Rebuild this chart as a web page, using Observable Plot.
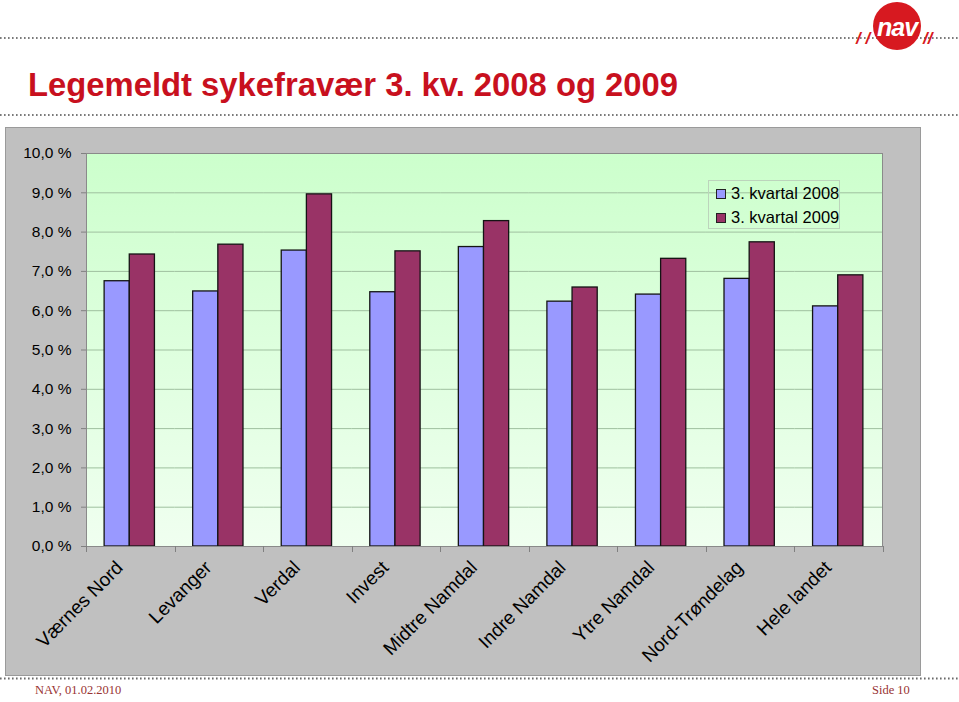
<!DOCTYPE html>
<html><head><meta charset="utf-8">
<script src="https://cdn.jsdelivr.net/npm/d3@7"></script>
<script src="https://cdn.jsdelivr.net/npm/@observablehq/plot@0.6"></script>
<style>
body{margin:0;background:#fff;width:959px;height:702px;position:relative;overflow:hidden;font-family:"Liberation Sans",Arial,sans-serif;}
#deco,#over{position:absolute;left:0;top:0;}
#over{pointer-events:none;}
#chart{position:absolute;left:0;top:127px;line-height:0;}
#legend{position:absolute;left:708px;top:180px;width:132px;height:49px;border:1px solid #bcd4bc;box-sizing:border-box;font-size:16.5px;color:#000;}
#legend .item{position:absolute;left:7px;height:20px;line-height:20px;white-space:nowrap;}
#legend .sw{display:inline-block;width:8px;height:8px;border:1px solid #222;margin-right:5px;vertical-align:0px;}
.foot{position:absolute;top:683px;font-family:"Liberation Serif","Times New Roman",serif;font-size:12.5px;color:#993333;}
</style></head>
<body>
<svg id="deco" width="959" height="702">
  <rect x="5.5" y="127.5" width="915" height="548" fill="#c0c0c0" stroke="#9a9a9a"/>
  <line x1="0" y1="38" x2="959" y2="38" stroke="#7a7a7a" stroke-width="2" stroke-dasharray="1.6 2.4"/>
  <line x1="0" y1="115" x2="959" y2="115" stroke="#7a7a7a" stroke-width="2" stroke-dasharray="1.6 2.4"/>
  <text id="title" x="28" y="96" fill="#c8101e" font-size="34" font-weight="bold" textLength="650" lengthAdjust="spacingAndGlyphs">Legemeldt sykefravær 3. kv. 2008 og 2009</text>
  <g>
    <circle cx="897" cy="26" r="24" fill="#d71920"/>
    <text x="897" y="36" text-anchor="middle" fill="#fff" font-size="25" font-weight="bold" font-style="italic" letter-spacing="-1">nav</text>
    <text x="856" y="44" fill="#d71920" font-size="17" font-weight="bold" font-style="italic">/ /</text>
    <text x="923" y="44" fill="#d71920" font-size="17" font-weight="bold" font-style="italic">//</text>
  </g>
</svg>
<div id="chart"></div>
<div id="legend"></div>
<svg id="over" width="959" height="702">
  <line x1="0" y1="678.5" x2="959" y2="678.5" stroke="#6a6a6a" stroke-width="2" stroke-dasharray="1.6 2.4"/>
</svg>
<div class="foot" style="left:35px">NAV, 01.02.2010</div>
<div class="foot" style="left:872px">Side 10</div>
<script>
const regions = ["Værnes Nord","Levanger","Verdal","Invest","Midtre Namdal","Indre Namdal","Ytre Namdal","Nord-Trøndelag","Hele landet"];
const series = ["3. kvartal 2008","3. kvartal 2009"];
const q3_2008 = [6.75,6.49,7.53,6.47,7.62,6.23,6.41,6.81,6.11];
const q3_2009 = [7.43,7.68,8.96,7.51,8.28,6.59,7.32,7.74,6.90];
const yTicks = [0,1,2,3,4,5,6,7,8,9,10];
const colors = ["#9999ff","#993366"];

(function () {
const data = regions.flatMap((r, i) => [
  {region: r, series: series[0], value: q3_2008[i]},
  {region: r, series: series[1], value: q3_2009[i]}
]);
const fmt = v => d3.format(".1f")(v).replace(".", ",") + " %";

const chart = Plot.plot({
  width: 959, height: 550,
  marginLeft: 86, marginRight: 76, marginTop: 26, marginBottom: 131,
  style: {background: "transparent", fontFamily: "'Liberation Sans', Arial, sans-serif", color: "#000", overflow: "visible"},
  fx: {domain: regions, padding: 0, round: false, label: null},
  x: {domain: series, paddingInner: 0, paddingOuter: 0.76, round: false, axis: null},
  y: {domain: [0, 10], label: null},
  color: {domain: series, range: colors},
  marks: [
    Plot.gridY(yTicks.slice(1, -1), {stroke: "#9fc09f", strokeOpacity: 1}),
    Plot.barY(data, {fx: "region", x: "series", y: "value", fill: "series", stroke: "#141414", strokeWidth: 1.3, dx: -1}),
    Plot.axisY(yTicks, {tickFormat: fmt, tickSize: 5, tickPadding: 10, fontSize: 15.5, stroke: "#808080", label: null}),
    Plot.axisFx({anchor: "bottom", tickRotate: -45, tickSize: 0, tickPadding: 10, fontSize: 19, dx: -11, dy: 8, label: null})
  ]
});
document.getElementById("chart").appendChild(chart);

// plot-area background, border and group-boundary ticks from Plot's scales
const fx = chart.scale("fx"), ys = chart.scale("y");
const svg = d3.select(chart);
const pLeft = fx.range[0], pRight = fx.range[1];
const pTop = ys.apply(10), pBottom = ys.apply(0);
const ns = "http://www.w3.org/2000/svg";
const defs = document.createElementNS(ns, "defs");
defs.innerHTML = '<linearGradient id="bggrad" x1="0" y1="0" x2="0" y2="1"><stop offset="0%" stop-color="#ccffcc"/><stop offset="100%" stop-color="#f0fff0"/></linearGradient>';
const bg = document.createElementNS(ns, "rect");
bg.setAttribute("x", pLeft); bg.setAttribute("y", pTop);
bg.setAttribute("width", pRight - pLeft); bg.setAttribute("height", pBottom - pTop);
bg.setAttribute("fill", "url(#bggrad)");
let firstMark = chart.firstChild;
while (firstMark && firstMark.nodeName.toLowerCase() === "style") firstMark = firstMark.nextSibling;
chart.insertBefore(defs, firstMark);
chart.insertBefore(bg, firstMark);

svg.append("rect").attr("x", pLeft + 0.5).attr("y", pTop + 0.5).attr("width", pRight - pLeft - 1).attr("height", pBottom - pTop)
  .attr("fill", "none").attr("stroke", "#8a8a8a");
const bounds = regions.map(r => fx.apply(r)).concat([fx.apply(regions[regions.length - 1]) + fx.bandwidth]);
svg.append("g").selectAll("line").data(bounds).join("line")
  .attr("x1", d => Math.round(d) + 0.5).attr("x2", d => Math.round(d) + 0.5)
  .attr("y1", pBottom).attr("y2", pBottom + 6).attr("stroke", "#808080");

// legend
const lg = document.getElementById("legend");
series.forEach((s, i) => {
  const it = document.createElement("div");
  it.className = "item";
  it.style.top = (2 + i * 24) + "px";
  it.innerHTML = `<span class="sw" style="background:${colors[i]}"></span>${s}`;
  lg.appendChild(it);
});
})();
</script>
</body></html>
